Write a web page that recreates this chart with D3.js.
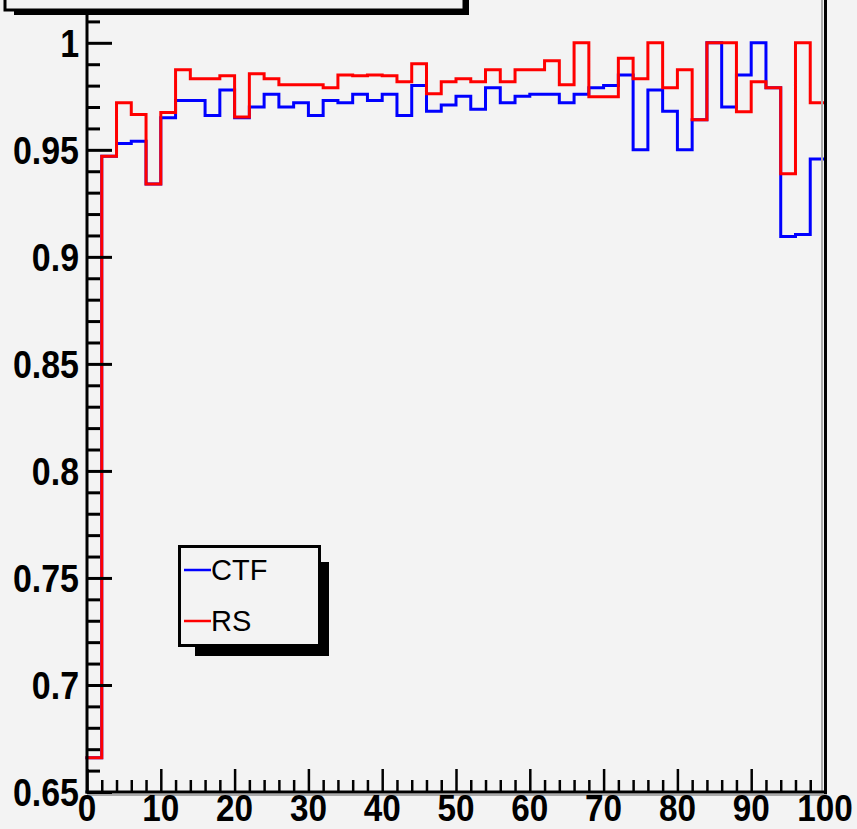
<!DOCTYPE html>
<html>
<head>
<meta charset="utf-8">
<script src="https://cdn.jsdelivr.net/npm/d3@7"></script>
<style>
  html, body { margin: 0; padding: 0; background: #f3f3f3; }
  svg { display: block; }
</style>
</head>
<body>
<svg id="chart" width="857" height="829"></svg>
<script>
// ---- data ----
const binLow = d3.range(0, 100, 2);           // 50 bins of width 2
const binWidth = 2;
const ctf = [0.666, 0.947, 0.953, 0.954, 0.934, 0.965, 0.973, 0.973, 0.966, 0.978,
             0.965, 0.970, 0.976, 0.970, 0.972, 0.966, 0.973, 0.972, 0.976, 0.973,
             0.976, 0.966, 0.980, 0.968, 0.971, 0.975, 0.969, 0.979, 0.972, 0.975,
             0.976, 0.976, 0.972, 0.976, 0.979, 0.980, 0.985, 0.950, 0.978, 0.968,
             0.950, 0.964, 1.000, 0.970, 0.985, 1.000, 0.979, 0.9095, 0.9105, 0.9457];
const rs  = [0.666, 0.947, 0.972, 0.9665, 0.934, 0.9675, 0.9874, 0.9832, 0.9832, 0.9846,
             0.9653, 0.9855, 0.9832, 0.9804, 0.9804, 0.9804, 0.979, 0.985, 0.9846, 0.985,
             0.9846, 0.9818, 0.9902, 0.9762, 0.9818, 0.9832, 0.9818, 0.9874, 0.9818, 0.9874,
             0.9874, 0.9916, 0.9804, 1.0, 0.9748, 0.9748, 0.9928, 0.9832, 1.0, 0.979,
             0.9874, 0.964, 1.0, 1.0, 0.9678, 0.9818, 0.979, 0.9388, 1.0, 0.972];
const xTicks = [0, 10, 20, 30, 40, 50, 60, 70, 80, 90, 100];
const yTicks = [0.65, 0.7, 0.75, 0.8, 0.85, 0.9, 0.95, 1];
const yTickLabels = ["0.65", "0.7", "0.75", "0.8", "0.85", "0.9", "0.95", "1"];
const seriesNames = ["CTF", "RS"];
const seriesColors = ["#0000ff", "#ff0000"];

// ---- layout ----
const bg = "#f3f3f3";
const X0 = 87, X1 = 825, Y0 = 792, Y1 = 0;
const x = d3.scaleLinear().domain([0, 100]).range([X0, X1]);
const y = d3.scaleLinear().domain([0.65, 1.02]).range([Y0, Y1]);

const svg = d3.select("#chart");
svg.append("rect").attr("width", 857).attr("height", 829).attr("fill", bg);

// histogram step lines
const line = d3.line().x(d => x(d[0])).y(d => y(d[1])).curve(d3.curveLinear);
function stepPoints(vals) {
  const pts = [];
  vals.forEach((v, i) => { pts.push([binLow[i], v]); pts.push([binLow[i] + binWidth, v]); });
  return pts;
}
const plot = svg.append("g");
[ctf, rs].forEach((vals, k) => {
  plot.append("path")
    .attr("d", line(stepPoints(vals)))
    .attr("fill", "none")
    .attr("stroke", seriesColors[k])
    .attr("stroke-width", 3)
    .attr("stroke-linejoin", "miter")
    .attr("stroke-linecap", "square");
});

// frame right/bottom (gray + black)
svg.append("line").attr("x1", X1 - 3).attr("x2", X1 - 3).attr("y1", 0).attr("y2", Y0)
  .attr("stroke", "#aaaaaa").attr("stroke-width", 2);
svg.append("line").attr("x1", X1 + 0.5).attr("x2", X1 + 0.5).attr("y1", 0).attr("y2", Y0 + 2)
  .attr("stroke", "#000").attr("stroke-width", 3);
svg.append("line").attr("x1", X0).attr("x2", X1 + 2).attr("y1", Y0 + 3).attr("y2", Y0 + 3)
  .attr("stroke", "#aaaaaa").attr("stroke-width", 2);

// y axis
const yMinor = d3.range(66, 102).map(v => v / 100).filter(v => Math.round(v * 100) % 5 !== 0);
const yAxis = d3.axisRight(y).tickValues(yTicks).tickSize(25).tickFormat("");
const gy = svg.append("g").attr("transform", `translate(${X0},0)`).call(yAxis);
gy.select(".domain").remove();
gy.selectAll(".tick line").attr("stroke", "#000").attr("stroke-width", 3);
const yAxisMinor = d3.axisRight(y).tickValues(yMinor).tickSize(13).tickFormat("");
const gym = svg.append("g").attr("transform", `translate(${X0},0)`).call(yAxisMinor);
gym.select(".domain").remove();
gym.selectAll(".tick line").attr("stroke", "#000").attr("stroke-width", 3);
svg.append("line").attr("x1", X0).attr("x2", X0).attr("y1", 0).attr("y2", Y0 + 1.5)
  .attr("stroke", "#000").attr("stroke-width", 3);

// x axis
const xMinor = d3.range(2, 100, 2).filter(v => v % 10 !== 0);
const xAxis = d3.axisTop(x).tickValues(xTicks).tickSize(23).tickFormat("");
const gx = svg.append("g").attr("transform", `translate(0,${Y0})`).call(xAxis);
gx.select(".domain").remove();
gx.selectAll(".tick line").attr("stroke", "#000").attr("stroke-width", 2.5);
const xAxisMinor = d3.axisTop(x).tickValues(xMinor).tickSize(12).tickFormat("");
const gxm = svg.append("g").attr("transform", `translate(0,${Y0})`).call(xAxisMinor);
gxm.select(".domain").remove();
gxm.selectAll(".tick line").attr("stroke", "#000").attr("stroke-width", 2.5);
svg.append("line").attr("x1", X0 - 1.5).attr("x2", X1 + 2).attr("y1", Y0).attr("y2", Y0)
  .attr("stroke", "#000").attr("stroke-width", 3);

// tick labels
const labFont = "'Liberation Sans', Arial, sans-serif";
yTicks.forEach((t, i) => {
  svg.append("text")
    .attr("transform", `translate(79,${y(t) + 14}) scale(0.87,1)`)
    .attr("text-anchor", "end")
    .attr("font-family", labFont).attr("font-weight", "bold").attr("font-size", 39)
    .attr("fill", "#000")
    .text(yTickLabels[i]);
});
xTicks.forEach(t => {
  svg.append("text")
    .attr("transform", `translate(${x(t)},821) scale(0.9,1)`)
    .attr("text-anchor", "middle")
    .attr("font-family", labFont).attr("font-weight", "bold").attr("font-size", 37)
    .attr("fill", "#000")
    .text(t);
});

// title box (top, mostly off-canvas)
svg.append("rect").attr("x", 14).attr("y", -20).attr("width", 455).attr("height", 35).attr("fill", "#000");
svg.append("rect").attr("x", 5).attr("y", -20).attr("width", 459).attr("height", 30)
  .attr("fill", bg).attr("stroke", "#000").attr("stroke-width", 3);

// legend
const lg = svg.append("g");
lg.append("rect").attr("x", 195).attr("y", 562).attr("width", 134).attr("height", 94).attr("fill", "#000");
lg.append("rect").attr("x", 179.5).attr("y", 546.5).attr("width", 140).attr("height", 99)
  .attr("fill", bg).attr("stroke", "#000").attr("stroke-width", 3);
const legY = [570, 621];
seriesNames.forEach((name, k) => {
  lg.append("line").attr("x1", 184).attr("x2", 211).attr("y1", legY[k]).attr("y2", legY[k])
    .attr("stroke", seriesColors[k]).attr("stroke-width", 2.5);
  lg.append("text").attr("x", 211).attr("y", legY[k] + 10)
    .attr("font-family", labFont).attr("font-size", 29).attr("fill", "#000")
    .text(name);
});
</script>
</body>
</html>
